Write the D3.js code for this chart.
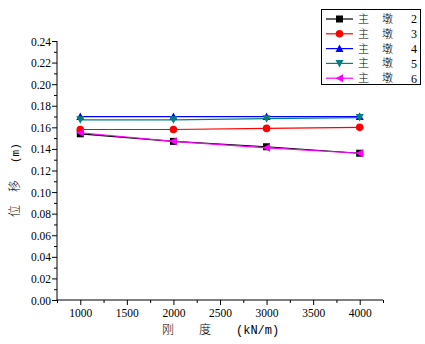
<!DOCTYPE html>
<html>
<head>
<meta charset="utf-8">
<script src="https://cdn.jsdelivr.net/npm/d3@7"></script>
<style>
  html, body { margin: 0; padding: 0; background: #fff; }
  svg { display: block; }
</style>
</head>
<body>
<svg id="chart" width="425" height="344"></svg>
<script>
// Stiffness values (kN/m) on the x axis
const stiffness = [1000, 2000, 3000, 4000];

// Displacement (m) of each main pier
const pier2 = [0.154, 0.147, 0.142, 0.136];
const pier3 = [0.158, 0.158, 0.159, 0.160];
const pier4 = [0.170, 0.170, 0.170, 0.170];
const pier5 = [0.167, 0.167, 0.168, 0.169];
const pier6 = [0.155, 0.147, 0.141, 0.136];

const seriesNames = ["2", "3", "4", "5", "6"];
const seriesValues = [pier2, pier3, pier4, pier5, pier6];
const seriesColors = ["#000000", "#ff0000", "#0000ff", "#008080", "#ff00ff"];
const seriesSymbols = ["square", "circle", "up", "down", "left"];

const xTicks = [1000, 1500, 2000, 2500, 3000, 3500, 4000];
const yTicks = d3.range(0, 0.2401, 0.02);

const SERIF = "'Liberation Serif', 'DejaVu Serif', serif";
const MONO = "'Liberation Mono', 'DejaVu Sans Mono', monospace";
const CJK = "'Noto Sans CJK SC', sans-serif";

const svg = d3.select("#chart");

const x = d3.scaleLinear().domain([750, 4250]).range([57, 383]);
const y = d3.scaleLinear().domain([0, 0.24]).range([300, 41]);

// Axes with minor ticks
const gx = svg.append("g").attr("transform", `translate(0,${y(0)})`);
gx.call(d3.axisBottom(x).tickValues(d3.range(750, 4251, 250)).tickSize(3).tickFormat(""));
gx.selectAll(".tick").filter(d => xTicks.includes(d)).select("line").attr("y2", 5);
gx.selectAll(".tick").filter(d => xTicks.includes(d)).append("text")
  .attr("y", 17).attr("text-anchor", "middle").attr("fill", "#000")
  .style("font-family", SERIF).style("font-size", "11.5px")
  .text(d => d);
gx.select(".domain").attr("d", `M${x(750)},0H${x(4250)}`);

const gy = svg.append("g").attr("transform", `translate(${x(750)},0)`);
gy.call(d3.axisLeft(y).tickValues(d3.range(0, 0.2401, 0.01)).tickSize(3).tickFormat(""));
const isMajor = d => yTicks.some(t => Math.abs(t - d) < 1e-6);
gy.selectAll(".tick").filter(isMajor).select("line").attr("x2", -5);
gy.selectAll(".tick").filter(isMajor).append("text")
  .attr("x", -6).attr("dy", "0.35em").attr("text-anchor", "end").attr("fill", "#000")
  .style("font-family", SERIF).style("font-size", "11.5px")
  .text(d => d3.format(".2f")(d));
gy.select(".domain").attr("d", `M0,${y(0)}V${y(0.24)}`);

svg.selectAll(".domain, .tick line").attr("stroke", "#000").attr("stroke-width", 1);

// Axis titles
const xt = svg.append("text").attr("y", 334).style("font-size", "12px");
xt.append("tspan").attr("x", 162).style("font-family", CJK).style("font-weight", 300).text("刚");
xt.append("tspan").attr("x", 199).style("font-family", CJK).style("font-weight", 300).text("度");
xt.append("tspan").attr("x", 236).style("font-family", MONO).text("(kN/m)");

const yt = svg.append("text")
  .attr("transform", `translate(19,0) rotate(-90)`).style("font-size", "12px");
yt.append("tspan").attr("x", -217).style("font-family", CJK).style("font-weight", 300).text("位");
yt.append("tspan").attr("x", -192).style("font-family", CJK).style("font-weight", 300).text("移");
yt.append("tspan").attr("x", -163).style("font-family", MONO).style("font-size", "11px").text("(m)");

// Marker shapes
const symbolSize = 7;
function marker(g, kind, color, cx, cy) {
  const s = symbolSize / 2;
  if (kind === "square") {
    g.append("rect").attr("x", cx - s).attr("y", cy - s).attr("width", 2 * s).attr("height", 2 * s).attr("fill", color);
  } else if (kind === "circle") {
    g.append("circle").attr("cx", cx).attr("cy", cy).attr("r", s + 0.3).attr("fill", color);
  } else {
    const pts = {
      up: [[0, -s - 0.5], [s + 0.5, s], [-s - 0.5, s]],
      down: [[0, s + 0.5], [s + 0.5, -s], [-s - 0.5, -s]],
      left: [[-s - 0.5, 0], [s, -s - 0.5], [s, s + 0.5]]
    }[kind];
    g.append("polygon").attr("points", pts.map(p => [cx + p[0], cy + p[1]].join(",")).join(" ")).attr("fill", color);
  }
}

// Series lines and markers
const line = d3.line().x((d, i) => x(stiffness[i])).y(d => y(d));
seriesValues.forEach((vals, k) => {
  const g = svg.append("g");
  g.append("path").attr("d", line(vals)).attr("fill", "none")
    .attr("stroke", seriesColors[k]).attr("stroke-width", 1.2);
  vals.forEach((v, i) => marker(g, seriesSymbols[k], seriesColors[k], x(stiffness[i]), y(v)));
});

// Legend
const lg = svg.append("g");
lg.append("rect").attr("x", 321.5).attr("y", 9.5).attr("width", 99).attr("height", 75)
  .attr("fill", "#fff").attr("stroke", "#000").attr("stroke-width", 1);
seriesNames.forEach((name, k) => {
  const ry = 19 + k * 14.8;
  lg.append("line").attr("x1", 326).attr("x2", 353).attr("y1", ry).attr("y2", ry)
    .attr("stroke", seriesColors[k]).attr("stroke-width", 1.2);
  marker(lg, seriesSymbols[k], seriesColors[k], 339.5, ry);
  lg.append("text").attr("x", 358).attr("y", ry).attr("dy", "0.36em")
    .style("font-family", CJK).style("font-weight", 300).style("font-size", "11px").text("主");
  lg.append("text").attr("x", 382).attr("y", ry).attr("dy", "0.36em")
    .style("font-family", CJK).style("font-weight", 300).style("font-size", "11px").text("墩");
  lg.append("text").attr("x", 411).attr("y", ry).attr("dy", "0.36em")
    .style("font-family", SERIF).style("font-size", "12px").text(name);
});
</script>
</body>
</html>
